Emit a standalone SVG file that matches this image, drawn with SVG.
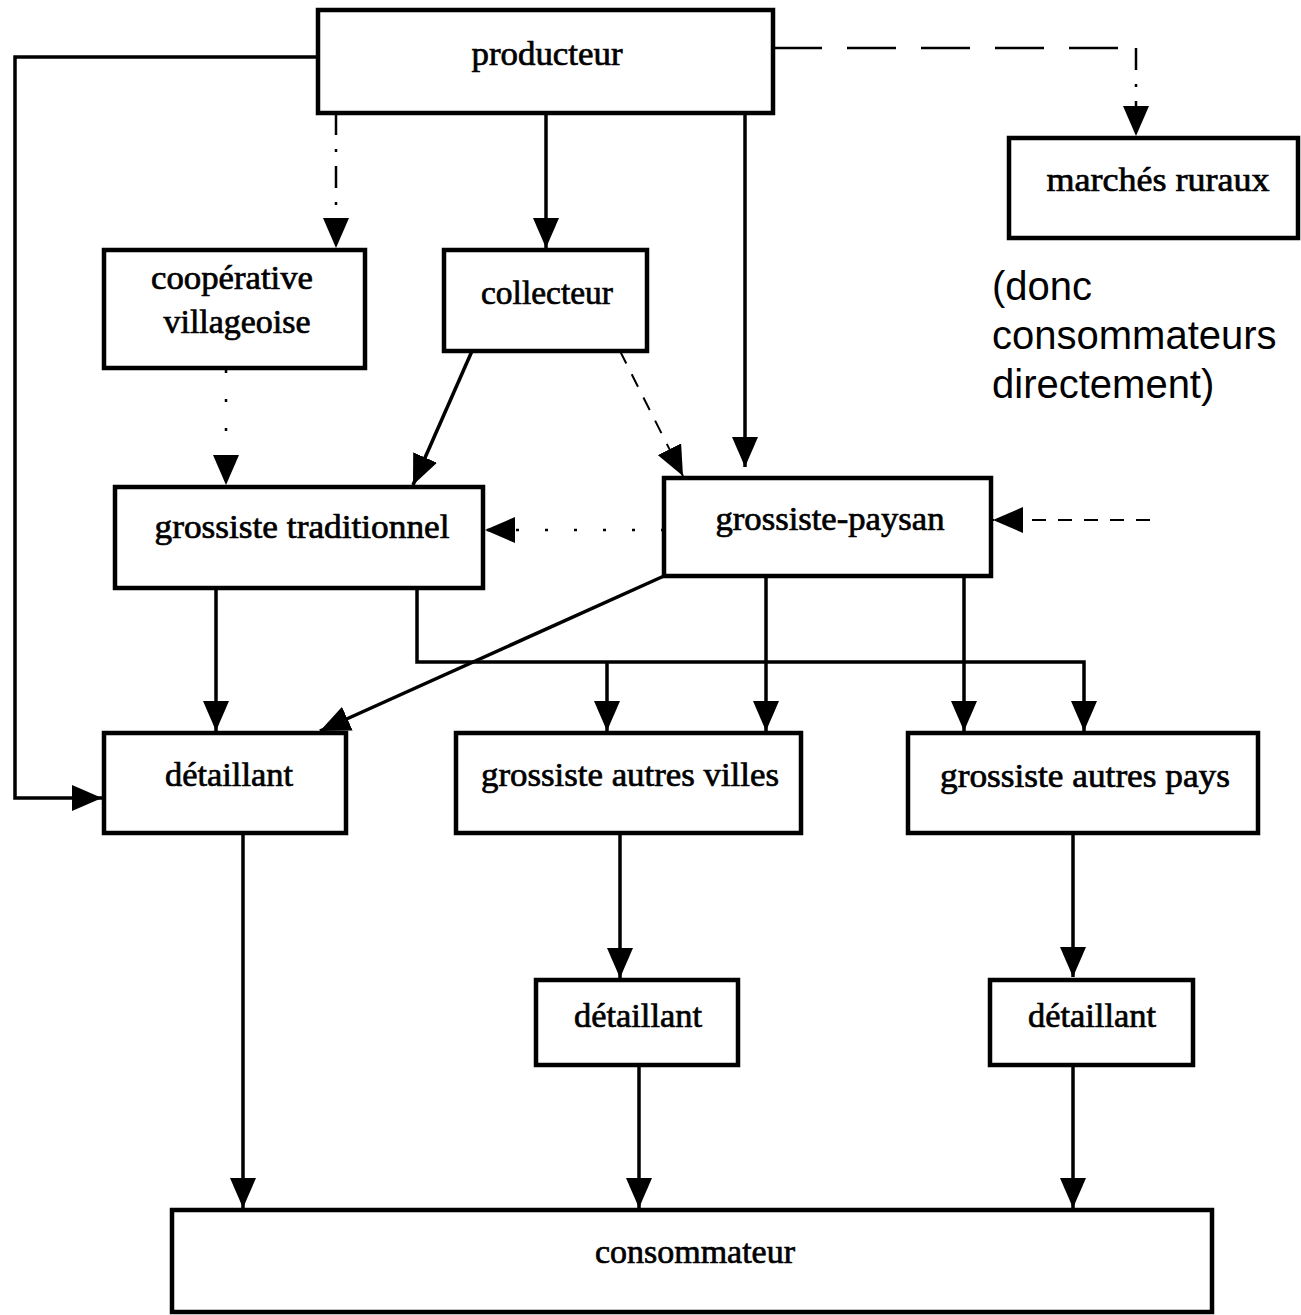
<svg xmlns="http://www.w3.org/2000/svg" width="1301" height="1315" viewBox="0 0 1301 1315">
<style>
.box{fill:#fff;stroke:#000;stroke-width:4.5}
.lbl{font-family:"Liberation Serif","Times New Roman",serif;font-size:34px;fill:#000;stroke:#000;stroke-width:0.7;text-anchor:middle}
.note{font-family:"Liberation Sans",Arial,sans-serif;font-size:40px;fill:#000}
.c{fill:none;stroke:#000;stroke-width:3.5}
.dash{fill:none;stroke:#000;stroke-width:2.5;stroke-dasharray:49,25}
.dashdot{fill:none;stroke:#000;stroke-width:2.5;stroke-dasharray:22,14,3,14}
.dot{fill:none;stroke:#000;stroke-width:2.5;stroke-dasharray:3,26}
.sdash{fill:none;stroke:#000;stroke-width:2;stroke-dasharray:14,12}
</style>
<defs>
<marker id="ah" markerUnits="userSpaceOnUse" markerWidth="30" markerHeight="26" viewBox="0 0 30 26" refX="30" refY="13" orient="auto">
<path d="M0,0 L30,13 L0,26 Z" fill="#000"/>
</marker>
</defs>
<g id="connectors">
<path class="c" d="M318,57 H15 V798 H102" marker-end="url(#ah)"/>
<path class="dashdot" d="M336,113 V248" marker-end="url(#ah)"/>
<path class="c" d="M546,113 V248" marker-end="url(#ah)"/>
<path class="c" d="M745,113 V467" marker-end="url(#ah)"/>
<path class="dash" d="M773,48 H1136"/>
<path class="dashdot" d="M1136,48 V136" marker-end="url(#ah)"/>
<path class="dot" d="M226,370 V485" marker-end="url(#ah)"/>
<path class="c" d="M472,351 L413,485" marker-end="url(#ah)"/>
<path class="sdash" d="M620,351 L683,476" marker-end="url(#ah)"/>
<path class="dot" d="M664,530 H485" marker-end="url(#ah)"/>
<path class="sdash" d="M1150,520 H993" marker-end="url(#ah)"/>
<path class="c" d="M664,576 L320,731" marker-end="url(#ah)"/>
<path class="c" d="M216,588 V731" marker-end="url(#ah)"/>
<path class="c" d="M417,588 V662 H1084 V731" marker-end="url(#ah)"/>
<path class="c" d="M607,662 V731" marker-end="url(#ah)"/>
<path class="c" d="M766,576 V731" marker-end="url(#ah)"/>
<path class="c" d="M964,576 V731" marker-end="url(#ah)"/>
<path class="c" d="M243,833 V1208" marker-end="url(#ah)"/>
<path class="c" d="M620,833 V978" marker-end="url(#ah)"/>
<path class="c" d="M1073,833 V977" marker-end="url(#ah)"/>
<path class="c" d="M639,1065 V1208" marker-end="url(#ah)"/>
<path class="c" d="M1073,1065 V1208" marker-end="url(#ah)"/>
</g>
<g id="producteur">
<rect class="box" x="318" y="10" width="455" height="103"/>
<text class="lbl" x="547" y="65" textLength="151" lengthAdjust="spacingAndGlyphs">producteur</text>
</g>
<g id="marches-ruraux">
<rect class="box" x="1009" y="138" width="289" height="100"/>
<text class="lbl" x="1158" y="191" textLength="223" lengthAdjust="spacingAndGlyphs">marchés ruraux</text>
</g>
<g id="note">
<text class="note" x="992" y="300">(donc</text>
<text class="note" x="992" y="349">consommateurs</text>
<text class="note" x="992" y="398">directement)</text>
</g>
<g id="cooperative">
<rect class="box" x="104" y="250" width="261" height="118"/>
<text class="lbl" x="232" y="289" textLength="162" lengthAdjust="spacingAndGlyphs">coopérative</text>
<text class="lbl" x="237" y="333" textLength="147" lengthAdjust="spacingAndGlyphs">villageoise</text>
</g>
<g id="collecteur">
<rect class="box" x="444" y="250" width="203" height="101"/>
<text class="lbl" x="547" y="304" textLength="132" lengthAdjust="spacingAndGlyphs">collecteur</text>
</g>
<g id="grossiste-traditionnel">
<rect class="box" x="115" y="487" width="368" height="101"/>
<text class="lbl" x="302" y="538" textLength="295" lengthAdjust="spacingAndGlyphs">grossiste traditionnel</text>
</g>
<g id="grossiste-paysan">
<rect class="box" x="664" y="478" width="327" height="98"/>
<text class="lbl" x="830" y="530" textLength="229" lengthAdjust="spacingAndGlyphs">grossiste-paysan</text>
</g>
<g id="detaillant-1">
<rect class="box" x="104" y="733" width="242" height="100"/>
<text class="lbl" x="229" y="786" textLength="128" lengthAdjust="spacingAndGlyphs">détaillant</text>
</g>
<g id="grossiste-autres-villes">
<rect class="box" x="456" y="733" width="345" height="100"/>
<text class="lbl" x="630" y="786" textLength="298" lengthAdjust="spacingAndGlyphs">grossiste autres villes</text>
</g>
<g id="grossiste-autres-pays">
<rect class="box" x="908" y="733" width="350" height="100"/>
<text class="lbl" x="1085" y="787" textLength="290" lengthAdjust="spacingAndGlyphs">grossiste autres pays</text>
</g>
<g id="detaillant-2">
<rect class="box" x="536" y="980" width="202" height="85"/>
<text class="lbl" x="638" y="1027" textLength="128" lengthAdjust="spacingAndGlyphs">détaillant</text>
</g>
<g id="detaillant-3">
<rect class="box" x="990" y="980" width="203" height="85"/>
<text class="lbl" x="1092" y="1027" textLength="128" lengthAdjust="spacingAndGlyphs">détaillant</text>
</g>
<g id="consommateur">
<rect class="box" x="172" y="1210" width="1040" height="102"/>
<text class="lbl" x="695" y="1263" textLength="200" lengthAdjust="spacingAndGlyphs">consommateur</text>
</g>
</svg>
